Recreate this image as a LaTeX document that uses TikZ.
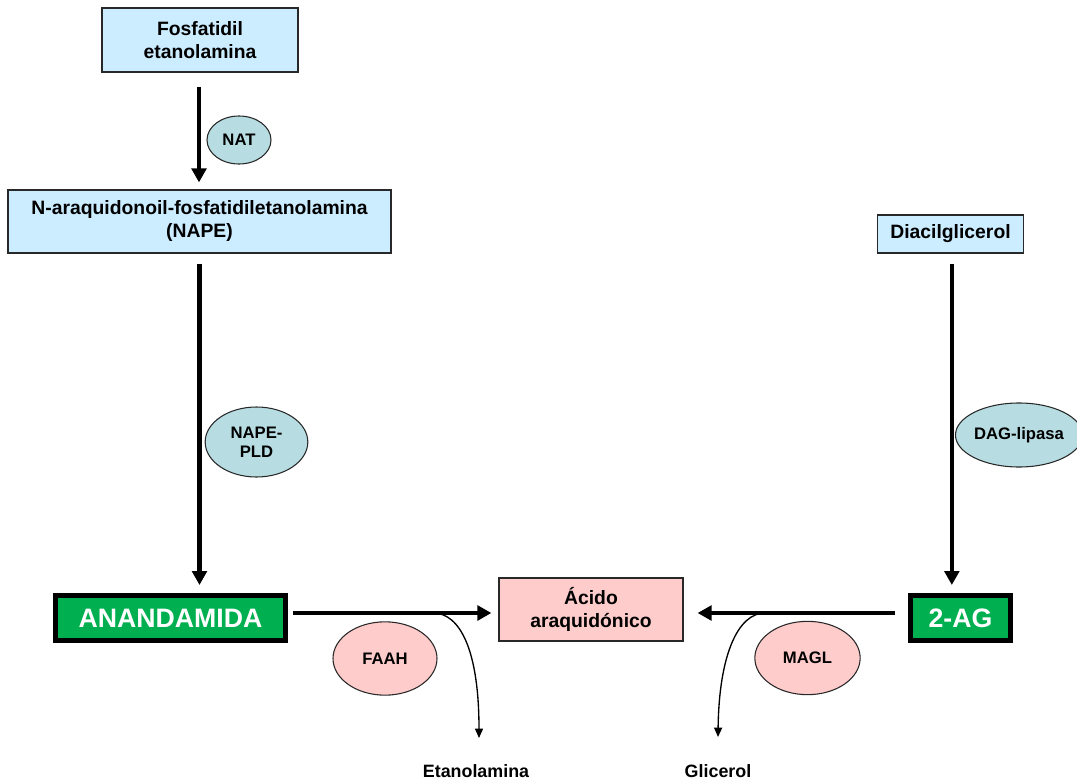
\documentclass[tikz,border=0pt]{standalone}
\usepackage{fontspec}
\setmainfont{Liberation Sans}
\usepackage{tikz}
\usetikzlibrary{shapes.geometric, arrows.meta, positioning, calc}

\definecolor{lipidblue}{RGB}{204, 236, 255}
\definecolor{enzteal}{RGB}{183, 221, 227}
\definecolor{enzpink}{RGB}{255, 204, 204}
\definecolor{ecbgreen}{RGB}{0, 176, 80}
\definecolor{boxgray}{RGB}{40, 40, 40}

\tikzset{
  lipid/.style={draw=boxgray, fill=lipidblue, line width=0.9pt, align=center, inner sep=0pt,
    font=\bfseries\fontsize{14.5}{17.25}\selectfont},
  ecb/.style={draw=black, fill=ecbgreen, line width=3.75pt, text=white, inner sep=0pt,
    font=\bfseries\fontsize{20}{24}\selectfont},
  enzyme/.style={ellipse, draw=boxgray, line width=0.8pt, align=center, inner sep=0pt,
    font=\bfseries\fontsize{12.5}{14}\selectfont},
  product/.style={inner sep=0pt, font=\bfseries\fontsize{13.4}{16}\selectfont},
  pathway/.style={line width=3.2pt, -{Triangle[length=10.5pt, width=11pt]}},
  sidearrow/.style={line width=1pt, -{Triangle[length=7pt, width=6pt]}}
}

\begin{document}
\begin{tikzpicture}[x=0.75pt, y=-0.75pt]
  \useasboundingbox (0,0) rectangle (1077,780);

  % anandamida branch
  \node[lipid, minimum width=147pt, minimum height=48pt] (fosf) at (200,40) {Fosfatidil\\etanolamina};
  \node[lipid, minimum width=287.25pt, minimum height=47.25pt] (nape) at (199.5,221.5)
    {N-araquidonoil-fosfatidiletanolamina\\(NAPE)};
  \node[ecb, minimum width=172.5pt, minimum height=33.75pt] (anand) at (170.5,618) {ANANDAMIDA};

  % 2-AG branch
  \node[lipid, minimum width=109.5pt, minimum height=28.5pt] (diacil) at (950.5,234) {Diacilglicerol};
  \node[ecb, minimum width=75pt, minimum height=33.75pt] (ag) at (960.5,618) {2-AG};

  % common product
  \node[lipid, fill=enzpink, minimum width=138pt, minimum height=47.25pt] (acido) at (591,609.5)
    {Ácido\\araquidónico};

  % enzymes
  \node[enzyme, fill=enzteal, minimum width=48pt, minimum height=36pt] (nat) at (239,140) {NAT};
  \node[enzyme, fill=enzteal, minimum width=77pt, minimum height=52.5pt] (napepld) at (256.5,442) {NAPE-\\PLD};
  \node[enzyme, fill=enzteal, minimum width=88.5pt, minimum height=48pt] (daglip) at (1019,435) {DAG-lipasa};
  \node[enzyme, fill=enzpink, minimum width=78pt, minimum height=55pt] (faah) at (385,658.5) {FAAH};
  \node[enzyme, fill=enzpink, minimum width=79pt, minimum height=55pt] (magl) at (807.5,658) {MAGL};

  % by-products
  \node[product] (eta) at (476,771) {Etanolamina};
  \node[product] (glic) at (718,771) {Glicerol};

  \coordinate (fcut) at (433,613);
  \coordinate (etatip) at (479,738);
  \coordinate (mcut) at (765,613);
  \coordinate (glictip) at (718,737);

  % synthesis
  \draw[pathway, shorten <=10.5pt, shorten >=5.25pt] ([xshift=-0.75pt]fosf.south) -- ([xshift=-0.75pt]fosf.south |- nape.north);
  \draw[pathway, shorten <=7.5pt, shorten >=6pt] (nape.south) -- (nape.south |- anand.north);
  \draw[pathway, shorten <=8pt, shorten >=6pt] ([xshift=1pt]diacil.south) -- ([xshift=1pt]diacil.south |- ag.north);

  % degradation
  \draw[pathway, shorten <=3.75pt, shorten >=5.25pt] ([yshift=3.75pt]anand.east) -- ([yshift=3.75pt]anand.east -| acido.west);
  \draw[pathway, shorten <=9.75pt, shorten >=10.5pt] ([yshift=3.75pt]ag.west) -- ([yshift=3.75pt]ag.west -| acido.east);
  \draw[sidearrow] (fcut) .. controls (460,613) and (479,650) .. (etatip);
  \draw[sidearrow] (mcut) .. controls (738,613) and (719,655) .. (glictip);
\end{tikzpicture}
\end{document}
